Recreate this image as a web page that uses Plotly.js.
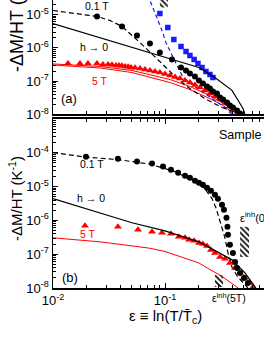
<!DOCTYPE html>
<html><head><meta charset="utf-8">
<script src="https://cdn.plot.ly/plotly-3.0.1.min.js"></script>
<style>
html,body{margin:0;padding:0;overflow:hidden;background:#fff;width:264px;height:341px}
#plot{position:absolute;left:0;top:-60px;width:287px;height:401px}
</style>
</head><body><div id="plot"></div>
<script>
// ---------- Panel (a) ----------
const a_circ_eps = [0.0247,0.0413,0.0562,0.0734,0.090,0.1155,0.139,0.154,0.167,0.185,0.201,0.218,0.237,0.252,0.268,0.291,0.310,0.330,0.358,0.380,0.404,0.44,0.468];
const a_circ_val = [8.8e-6,4.4e-6,2.36e-6,1.35e-6,7.3e-7,4.5e-7,2.58e-7,2.1e-7,1.7e-7,1.38e-7,1.05e-7,8.5e-8,6.9e-8,6.0e-8,4.9e-8,4.3e-8,3.24e-8,2.8e-8,2.3e-8,1.86e-8,1.62e-8,1.32e-8,1.07e-8];
const a_sq_eps = [0.090,0.106,0.120,0.139,0.154,0.167,0.182,0.197,0.214,0.232,0.252,0.268];
const a_sq_val = [1.08e-5,4.1e-6,1.79e-6,1.10e-6,7.8e-7,5.9e-7,4.5e-7,3.4e-7,2.58e-7,1.95e-7,1.58e-7,1.29e-7];
const a_tri_eps = [0.0136,0.0174,0.0205,0.0247,0.0279,0.031,0.0336,0.0365,0.0388,0.0413,0.044,0.0468,0.0497,0.054,0.0598,0.0663,0.0734,0.0814,0.090,0.1,0.111,0.123,0.136,0.151,0.167,0.185,0.205,0.227,0.252,0.279,0.31,0.343,0.38,0.422,0.449];
const a_tri_val = [3.4e-7,3.4e-7,3.4e-7,3.4e-7,3.18e-7,3.18e-7,3.1e-7,2.96e-7,2.96e-7,2.9e-7,2.76e-7,2.7e-7,2.58e-7,2.55e-7,2.4e-7,2.24e-7,2.1e-7,1.95e-7,1.82e-7,1.64e-7,1.48e-7,1.34e-7,1.2e-7,1.05e-7,9.1e-8,7.7e-8,6.5e-8,5.3e-8,4.3e-8,3.5e-8,2.8e-8,2.2e-8,1.74e-8,1.41e-8,1.15e-8];
const a_dash_eps = [0.01,0.0157,0.0247,0.0323,0.0413,0.0598,0.0814,0.1,0.128,0.167,0.227,0.31,0.422,0.497];
const a_dash_val = [1.33e-5,1.08e-5,8.8e-6,6.65e-6,4.4e-6,1.45e-6,5.5e-7,2.76e-7,1.2e-7,6.0e-8,3.0e-8,1.74e-8,1.15e-8,9.3e-9];
const a_h0_eps = [0.01,0.0214,0.0507,0.1,0.201,0.279,0.396,0.45,0.497,0.52];
const a_h0_val = [5.4e-6,2.52e-6,1.03e-6,5.15e-7,2.58e-7,1.29e-7,5.3e-8,2.63e-8,1.51e-8,9.5e-9];
const a_red1_eps = [0.01,0.0263,0.0507,0.0734,0.111,0.167,0.252,0.343,0.44];
const a_red1_val = [3.3e-7,2.76e-7,2.1e-7,1.58e-7,1.12e-7,6.9e-8,3.7e-8,2.0e-8,1e-8];
const a_red2_eps = [0.01,0.0263,0.0507,0.0734,0.111,0.167,0.252,0.343,0.413];
const a_red2_val = [3.06e-7,2.49e-7,1.82e-7,1.29e-7,9.1e-8,5.6e-8,3.0e-8,1.74e-8,1e-8];
const a_blue_eps = [0.0598,0.0734,0.0849,0.094,0.102,0.113,0.128,0.145,0.178,0.227,0.279,0.343,0.396];
const a_blue_val = [1.49e-4,2.65e-5,7.6e-6,3.33e-6,1.45e-6,6.8e-7,2.96e-7,1.29e-7,7.4e-8,4.3e-8,2.63e-8,1.62e-8,1e-8];
const a_hatch_eps = [0.090,0.106];
const a_hatch_val = [1.63e-5,4.6e-5];

// ---------- Panel (b) ----------
const b_circ_eps = [0.0197,0.038,0.0562,0.0766,0.096,0.113,0.131,0.151,0.167,0.185,0.201,0.218,0.237,0.257,0.279,0.297,0.323,0.336,0.354,0.361,0.365,0.38,0.404,0.422,0.44,0.468,0.507,0.55];
const b_circ_val = [7.7e-5,6.7e-5,5.5e-5,4.8e-5,3.9e-5,3.17e-5,2.58e-5,2.1e-5,1.84e-5,1.5e-5,1.3e-5,1.14e-5,9.3e-6,7.55e-6,5.75e-6,4.4e-6,2.9e-6,2.06e-6,1.19e-6,6.45e-7,3.74e-7,1.89e-7,1.09e-7,5.9e-8,3.9e-8,2.78e-8,1.98e-8,1.4e-8];
const b_dash_eps = [0.01,0.0197,0.038,0.0734,0.123,0.185,0.227,0.263,0.285,0.31,0.343,0.365,0.396,0.44,0.497,0.55];
const b_dash_val = [1.01e-4,7.45e-5,6.3e-5,4.6e-5,2.77e-5,1.4e-5,8.7e-6,4.4e-6,2.37e-6,9.1e-7,3.05e-7,1.09e-7,4.2e-8,2.27e-8,1.4e-8,1e-8];
const b_tri_eps = [0.0193,0.038,0.0574,0.0766,0.094,0.113,0.133,0.151,0.164,0.182,0.201,0.218,0.237,0.257,0.279,0.31,0.343,0.38,0.422,0.468,0.518,0.574,0.611];
const b_tri_val = [6.9e-7,6.45e-7,5.26e-7,4.6e-7,4.3e-7,4.0e-7,3.26e-7,3.05e-7,2.66e-7,2.48e-7,2.16e-7,2.02e-7,1.76e-7,1.34e-7,1.09e-7,8.3e-8,7.3e-8,5.5e-8,3.9e-8,2.78e-8,1.98e-8,1.4e-8,1.07e-8];
const b_h0_eps = [0.01,0.0214,0.0507,0.1,0.201,0.396,0.518,0.637,0.65];
const b_h0_val = [4.4e-6,2.04e-6,8.5e-7,4.9e-7,2.32e-7,6.8e-8,2.78e-8,1.07e-8,9e-9];
const b_red_eps = [0.01,0.0263,0.0507,0.0734,0.1,0.145,0.201,0.252,0.31,0.38,0.45];
const b_red_val = [3.05e-7,2.32e-7,1.76e-7,1.5e-7,1.2e-7,8.0e-8,5.5e-8,3.5e-8,2.4e-8,1.5e-8,1e-8];
const b_hatch1_eps = [0.468,0.563];
const b_hatch1_val = [8.3e-8,6.45e-7];
const b_hatch2_eps = [0.279,0.33];
const b_hatch2_val = [1.07e-8,2.43e-8];

// ---------- Tick labels ----------
const xTickVals = [0.01,0.1];
const xTickText = ['10<sup>-2</sup>','10<sup>-1</sup>'];
const yTickVals = [1e-8,1e-7,1e-6,1e-5,1e-4];
const yTickText = ['10<sup>-8</sup>','10<sup>-7</sup>','10<sup>-6</sup>','10<sup>-5</sup>','10<sup>-4</sup>'];

const FONT = 'Liberation Sans, Arial, sans-serif';
const BLUE = '#1a1aff', RED = '#ff0000';

function minors(lo, hi){const v=[];for(let e=lo;e<hi;e++)for(let d=2;d<=9;d++)v.push(d*Math.pow(10,e));return v;}
function box(eps, val, xa, ya){
  return {x:[eps[0],eps[1],eps[1],eps[0],eps[0]], y:[val[0],val[0],val[1],val[1],val[0]],
    xaxis:xa, yaxis:ya, mode:'lines', line:{width:0,color:'rgba(0,0,0,0)'}, fill:'toself',
    fillcolor:'rgba(255,255,255,1)',
    fillpattern:{shape:'\\', fgcolor:'#000', bgcolor:'#fff', fillmode:'replace', size:4, solidity:0.4},
    hoverinfo:'skip'};
}
function line(x,y,xa,ya,color,width,dash){return {x,y,xaxis:xa,yaxis:ya,mode:'lines',line:{color,width,dash:dash||'solid'}};}
function pts(x,y,xa,ya,color,symbol,size){return {x,y,xaxis:xa,yaxis:ya,mode:'markers',marker:{color,symbol,size,line:{width:0}}};}

const traces = [
  box(a_hatch_eps,a_hatch_val,'x','y'),
  line(a_red1_eps,a_red1_val,'x','y',RED,1),
  line(a_red2_eps,a_red2_val,'x','y',RED,1),
  line(a_blue_eps,a_blue_val,'x','y',BLUE,1.2,'4px,3px'),
  line(a_dash_eps,a_dash_val,'x','y','#000',1.2,'5px,3px'),
  pts(a_tri_eps,a_tri_val,'x','y',RED,'triangle-up',7),
  pts(a_sq_eps,a_sq_val,'x','y',BLUE,'square',5.5),
  pts(a_circ_eps,a_circ_val,'x','y','#000','circle',6),
  line(a_h0_eps,a_h0_val,'x','y','#000',1.2),

  box(b_hatch1_eps,b_hatch1_val,'x2','y2'),
  box(b_hatch2_eps,b_hatch2_val,'x2','y2'),
  line(b_red_eps,b_red_val,'x2','y2',RED,1),
  line(b_dash_eps,b_dash_val,'x2','y2','#000',1.2,'5px,3px'),
  pts(b_tri_eps,b_tri_val,'x2','y2',RED,'triangle-up',7),
  pts(b_circ_eps,b_circ_val,'x2','y2','#000','circle',6),
  line(b_h0_eps,b_h0_val,'x2','y2','#000',1.2)
];

const xm = minors(-2,0), ym = minors(-8,-3);
function xax(anchor, labels){
  return {type:'log', range:[-2,0], anchor, domain:[0,1], showline:true, linewidth:1.5, linecolor:'#000',
    mirror:'allticks', ticks:'inside', ticklen:5, tickwidth:1, tickcolor:'#000', showgrid:false, zeroline:false,
    tickmode:'array', tickvals:xTickVals, ticktext:xTickText, showticklabels:labels,
    tickfont:{family:FONT,size:13,color:'#000'},
    minor:{tickmode:'array', tickvals:xm, ticks:'inside', ticklen:3, tickwidth:1, tickcolor:'#000', showgrid:false}};
}
function yax(anchor, domain){
  return {type:'log', range:[-8,-3], anchor, domain, showline:true, linewidth:1.5, linecolor:'#000',
    mirror:'allticks', ticks:'inside', ticklen:5, tickwidth:1, tickcolor:'#000', showgrid:false, zeroline:false,
    tickmode:'array', tickvals:yTickVals, ticktext:yTickText,
    tickfont:{family:FONT,size:13,color:'#000'},
    minor:{tickmode:'array', tickvals:ym, ticks:'inside', ticklen:3, tickwidth:1, tickcolor:'#000', showgrid:false}};
}

// page pixel -> paper coords (plot area x 53..277, y -52..288 in page pixels)
const PX = px => (px-53)/224, PY = py => (288-py)/340;
function ann(text, px, py, size, opts){
  return Object.assign({text, x:PX(px), y:PY(py), xref:'paper', yref:'paper', showarrow:false,
    xanchor:'center', yanchor:'middle', font:{family:FONT,size,color:'#000'}}, opts||{});
}
const annotations = [
  ann('0.1 T',97,6,10.5),
  ann('h \u2192 0',94,47,10.5),
  ann('5 T',100,81,10.5,{font:{family:FONT,size:10.5,color:RED}}),
  ann('(a)',69,98,13),
  ann('0.1 T',92,164,10.5),
  ann('h \u2192 0',91,198,10.5),
  ann('5 T',88,234,10.5,{font:{family:FONT,size:10.5,color:RED}}),
  ann('(b)',70,277,13),
  ann('Sample 1',217,135,12.5,{xanchor:'left'}),
  ann('\u03b5<sup>inh</sup>(0)',238,217,11,{xanchor:'left'}),
  ann('\u03b5<sup>inh</sup>(5T)',229,298,10.5),
  ann('-\u0394M/HT (K<sup>-1</sup>)',15,21,18,{textangle:-90}),
  ann('-\u0394M/HT (K<sup>-1</sup>)',15,199,15,{textangle:-90}),
  ann('\u03b5 \u2261 ln(T/T\u0304<sub>c</sub>)',165,316,15)
];

const layout = {
  width:287, height:401, margin:{l:53,r:10,t:8,b:53},
  paper_bgcolor:'#fff', plot_bgcolor:'#fff', showlegend:false,
  font:{family:FONT,color:'#000'},
  xaxis:xax('y',false), yaxis:yax('x',[0.5103,1]),
  xaxis2:xax('y2',true), yaxis2:yax('x2',[0,0.4971]),
  annotations
};
Plotly.newPlot('plot', traces, layout, {staticPlot:true, displayModeBar:false});
</script></body></html>
